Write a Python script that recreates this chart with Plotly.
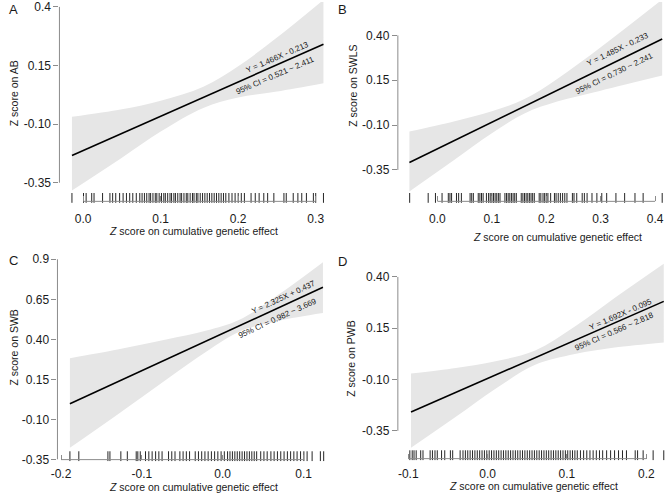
import plotly.graph_objects as go

# ---------------- data ----------------
panel_letters = ["A", "B", "C", "D"]
y_titles = ["Z score on AB", "Z score on SWLS", "Z score on SWB", "Z score on PWB"]
x_title = "<i>Z</i> score on cumulative genetic effect"

eq_texts = ["Y = 1.466X - 0.213", "Y = 1.485X - 0.233", "Y = 2.325X + 0.437", "Y = 1.692X - 0.095"]
ci_texts = ["95% CI = 0.521 ~ 2.411", "95% CI = 0.730 ~ 2.241", "95% CI = 0.982 ~ 3.669", "95% CI = 0.566 ~ 2.818"]

# x tick values / labels
xtick_A = [0.0, 0.1, 0.2, 0.3]
xtick_B = [0.0, 0.1, 0.2, 0.3, 0.4]
xtick_C = [-0.2, -0.1, 0.0, 0.1]
xtick_D = [-0.1, 0.0, 0.1, 0.2]
xlab_A = ["0.0", "0.1", "0.2", "0.3"]
xlab_B = ["0.0", "0.1", "0.2", "0.3", "0.4"]
xlab_C = ["-0.2", "-0.1", "0.0", "0.1"]
xlab_D = ["-0.1", "0.0", "0.1", "0.2"]

# y tick values / labels
ytick_A = [-0.35, -0.10, 0.15, 0.4]
ytick_B = [-0.35, -0.10, 0.15, 0.40]
ytick_C = [-0.35, -0.10, 0.15, 0.40, 0.65, 0.9]
ytick_D = [-0.35, -0.10, 0.15, 0.40]
ylab_A = ["-0.35", "-0.10", "0.15", "0.4"]
ylab_B = ["-0.35", "-0.10", "0.15", "0.40"]
ylab_C = ["-0.35", "-0.10", "0.15", "0.40", "0.65", "0.9"]
ylab_D = ["-0.35", "-0.10", "0.15", "0.40"]

# fitted line end points
line_x_A = [-0.0145, 0.310]
line_y_A = [-0.234, 0.241]
line_x_B = [-0.0515, 0.413]
line_y_B = [-0.309, 0.380]
line_x_C = [-0.189, 0.124]
line_y_C = [-0.002, 0.725]
line_x_D = [-0.0965, 0.222]
line_y_D = [-0.258, 0.281]

# 95% confidence band
band_x_A = [-0.0145, 0.05, 0.10, 0.155, 0.20, 0.25, 0.310]
band_up_A = [-0.069, -0.037, 0.000, 0.059, 0.147, 0.269, 0.430]
band_lo_A = [-0.383, -0.243, -0.132, -0.031, 0.013, 0.039, 0.0745]

band_x_B = [-0.0515, 0.03, 0.10, 0.16, 0.22, 0.30, 0.413]
band_up_B = [-0.136, -0.080, -0.023, 0.045, 0.157, 0.334, 0.600]
band_lo_B = [-0.470, -0.296, -0.145, -0.035, 0.031, 0.092, 0.176]

band_x_C = [-0.189, -0.13, -0.07, -0.02, 0.02, 0.07, 0.124]
band_up_C = [0.283, 0.337, 0.399, 0.455, 0.521, 0.683, 0.882]
band_lo_C = [-0.276, -0.068, 0.149, 0.325, 0.447, 0.517, 0.565]

band_x_D = [-0.0965, -0.04, 0.01, 0.06, 0.11, 0.16, 0.222]
band_up_D = [-0.071, -0.044, -0.011, 0.0415, 0.158, 0.297, 0.464]
band_lo_D = [-0.433, -0.282, -0.145, -0.0285, 0.024, 0.056, 0.081]

# rug (observed predictor values)
rug_A = [-0.0145, 0.0004, 0.0038, 0.011, 0.014, 0.025, 0.0345, 0.038, 0.042, 0.047,
         0.0515, 0.0558, 0.060, 0.064, 0.0685, 0.073, 0.076, 0.079, 0.082, 0.085,
         0.087, 0.090, 0.093, 0.095, 0.098, 0.101, 0.104, 0.106, 0.109, 0.112,
         0.114, 0.117, 0.119, 0.122, 0.125, 0.127, 0.130, 0.133, 0.135, 0.138,
         0.141, 0.143, 0.146, 0.148, 0.151, 0.154, 0.157, 0.160, 0.163, 0.166,
         0.169, 0.172, 0.175, 0.178, 0.181, 0.184, 0.188, 0.192, 0.196, 0.200,
         0.204, 0.208, 0.2166, 0.222, 0.227, 0.233, 0.238, 0.246, 0.259, 0.262,
         0.271, 0.277, 0.282, 0.288, 0.297, 0.300, 0.310]
rug_B = [-0.051, -0.017, -0.0036, 0.0085, 0.020, 0.023, 0.026, 0.035, 0.039, 0.044,
         0.060, 0.063, 0.066, 0.075, 0.078, 0.081, 0.084, 0.090, 0.094, 0.097,
         0.100, 0.103, 0.106, 0.109, 0.112, 0.115, 0.124, 0.127, 0.130, 0.133,
         0.136, 0.139, 0.142, 0.145, 0.154, 0.157, 0.160, 0.163, 0.166, 0.169,
         0.172, 0.175, 0.178, 0.187, 0.190, 0.194, 0.197, 0.200, 0.203, 0.208,
         0.215, 0.218, 0.222, 0.226, 0.230, 0.234, 0.238, 0.248, 0.251, 0.256,
         0.266, 0.270, 0.275, 0.284, 0.293, 0.302, 0.311, 0.328, 0.344, 0.363,
         0.378, 0.413]
rug_C = [-0.189, -0.178, -0.142, -0.1395, -0.126, -0.118, -0.107, -0.105, -0.102, -0.0955,
         -0.0914, -0.0873, -0.083, -0.079, -0.075, -0.067, -0.063, -0.059, -0.053, -0.049,
         -0.045, -0.041, -0.034, -0.030, -0.026, -0.022, -0.018, -0.014, -0.010, -0.006,
         -0.002, 0.002, 0.006, 0.009, 0.012, 0.015, 0.018, 0.021, 0.024, 0.027,
         0.030, 0.033, 0.036, 0.039, 0.042, 0.047, 0.051, 0.055, 0.0596, 0.0636,
         0.0677, 0.0718, 0.0759, 0.080, 0.084, 0.088, 0.092, 0.0963, 0.1004, 0.1044,
         0.1106, 0.1208, 0.1249]
rug_D = [-0.098, -0.095, -0.0927, -0.090, -0.0843, -0.0814, -0.0724, -0.0695, -0.0663, -0.0634,
         -0.058, -0.054, -0.0469, -0.044, -0.0346, -0.031, -0.028, -0.025, -0.022, -0.019,
         -0.016, -0.013, -0.010, -0.007, -0.004, -0.001, 0.002, 0.005, 0.008, 0.011,
         0.014, 0.017, 0.020, 0.023, 0.026, 0.029, 0.032, 0.035, 0.038, 0.041,
         0.044, 0.047, 0.050, 0.053, 0.056, 0.059, 0.062, 0.065, 0.068, 0.071,
         0.074, 0.077, 0.080, 0.083, 0.086, 0.089, 0.092, 0.095, 0.098, 0.101,
         0.104, 0.107, 0.110, 0.113, 0.117, 0.121, 0.125, 0.129, 0.133, 0.137,
         0.141, 0.145, 0.150, 0.155, 0.160, 0.165, 0.170, 0.175, 0.186, 0.189,
         0.196, 0.2086, 0.222]

# ---------------- layout geometry (pixels) ----------------
W, H = 666, 500
geom = [
    dict(L=53, R=330, T=0, B=203, x0px=77.0, xs=783.3, yref=0.4, yrefpx=5.0, ys=238.7, stand=9),
    dict(L=395, R=664, T=0, B=203, x0px=435.0, xs=550.0, yref=0.40, yrefpx=34.0, ys=182.7, stand=9),
    dict(L=51, R=330, T=252, B=466, x0px=218.0, xs=817.0, yref=0.9, yrefpx=262.0, ys=163.2, stand=5),
    dict(L=395, R=666, T=252, B=465, x0px=485.7, xs=802.0, yref=0.40, yrefpx=280.0, ys=208.9, stand=6),
]
eq_pos = [(273, 57), (617, 48), (279, 301), (620, 318)]
ci_pos = [(271, 75), (614, 73), (273, 322), (614, 336)]
angles = [-23.4, -25.8, -24.7, -23.5]
letter_pos = [(7, 8), (339, 8), (7, 263), (339, 264)]
ytitle_pos = [(7, 93), (350, 85), (7, 352), (348, 363)]
xtitle_pos = [(188, 233), (556, 239), (188, 494), (532, 493)]

xticks = [(xtick_A, xlab_A), (xtick_B, xlab_B), (xtick_C, xlab_C), (xtick_D, xlab_D)]
yticks = [(ytick_A, ylab_A), (ytick_B, ylab_B), (ytick_C, ylab_C), (ytick_D, ylab_D)]
lines = [(line_x_A, line_y_A), (line_x_B, line_y_B), (line_x_C, line_y_C), (line_x_D, line_y_D)]
bands = [(band_x_A, band_up_A, band_lo_A), (band_x_B, band_up_B, band_lo_B),
         (band_x_C, band_up_C, band_lo_C), (band_x_D, band_up_D, band_lo_D)]
rugs = [rug_A, rug_B, rug_C, rug_D]

FONT = "Liberation Sans, Arial, sans-serif"
AXCOL = "#8c8c8c"
TXT = "#1a1a1a"
BAND = "#e6e6e6"

fig = go.Figure()
layout = dict(width=W, height=H, margin=dict(l=0, r=0, t=0, b=0),
              paper_bgcolor="white", plot_bgcolor="white", showlegend=False,
              font=dict(family=FONT, color=TXT, size=12))
shapes = []
annotations = []


def ann(text, px, py, size, angle=0):
    return dict(text=text, x=px / W, y=1 - py / H, xref="paper", yref="paper",
                xanchor="center", yanchor="middle", showarrow=False, textangle=angle,
                font=dict(size=size, color=TXT, family=FONT))


for i in range(4):
    g = geom[i]
    sfx = "" if i == 0 else str(i + 1)
    xa, ya = "x" + sfx, "y" + sfx
    xr = [(g["L"] - g["x0px"]) / g["xs"], (g["R"] - g["x0px"]) / g["xs"]]
    yr = [g["yref"] - (g["B"] - g["yrefpx"]) / g["ys"], g["yref"] + (g["yrefpx"] - g["T"]) / g["ys"]]

    bx, bu, bl = bands[i]
    fig.add_trace(go.Scatter(x=bx, y=bl, mode="lines", line=dict(width=0, shape="spline", smoothing=1.0),
                             xaxis=xa, yaxis=ya, hoverinfo="skip"))
    fig.add_trace(go.Scatter(x=bx, y=bu, mode="lines", line=dict(width=0, shape="spline", smoothing=1.0),
                             fill="tonexty", fillcolor=BAND, xaxis=xa, yaxis=ya, hoverinfo="skip"))
    lx, ly = lines[i]
    fig.add_trace(go.Scatter(x=lx, y=ly, mode="lines", line=dict(color="black", width=1.6),
                             xaxis=xa, yaxis=ya, hoverinfo="skip"))
    rug_y = yr[0] + 3.5 / g["ys"]
    fig.add_trace(go.Scatter(x=rugs[i], y=[rug_y] * len(rugs[i]), mode="markers",
                             marker=dict(symbol="line-ns", size=7, line=dict(width=1, color="#262626")),
                             xaxis=xa, yaxis=ya, hoverinfo="skip", cliponaxis=False))

    tv, tt = xticks[i]
    layout["xaxis" + sfx] = dict(domain=[g["L"] / W, g["R"] / W], range=xr, anchor=ya,
                                 showgrid=False, zeroline=False, showline=False,
                                 ticks="inside", ticklen=5, tickwidth=1, tickcolor=AXCOL,
                                 tickvals=tv, ticktext=tt, tickfont=dict(size=12, color=TXT),
                                 ticklabelstandoff=g["stand"], ticklabeloverflow="allow")
    yv, yt = yticks[i]
    layout["yaxis" + sfx] = dict(domain=[1 - g["B"] / H, 1 - g["T"] / H], range=yr, anchor=xa,
                                 showgrid=False, zeroline=False, showline=False,
                                 ticks="outside", ticklen=5, tickwidth=1, tickcolor=AXCOL,
                                 tickvals=yv, ticktext=yt, tickfont=dict(size=12, color=TXT),
                                 ticklabeloverflow="allow")
    shapes.append(dict(type="line", xref=xa, yref=ya + " domain", x0=tv[0], x1=tv[-1], y0=0, y1=0,
                       line=dict(color=AXCOL, width=1)))
    shapes.append(dict(type="line", xref=xa + " domain", yref=ya, x0=0, x1=0, y0=yv[0], y1=yv[-1],
                       line=dict(color=AXCOL, width=1)))

    annotations.append(ann(panel_letters[i], letter_pos[i][0], letter_pos[i][1], 13))
    annotations.append(ann(y_titles[i], ytitle_pos[i][0], ytitle_pos[i][1], 10.5, -90))
    annotations.append(ann(x_title, xtitle_pos[i][0], xtitle_pos[i][1], 10.5))
    annotations.append(ann(eq_texts[i], eq_pos[i][0], eq_pos[i][1], 8, angles[i]))
    annotations.append(ann(ci_texts[i], ci_pos[i][0], ci_pos[i][1], 8, angles[i]))

layout["shapes"] = shapes
layout["annotations"] = annotations
fig.update_layout(**layout)
fig.write_html("out.html")
